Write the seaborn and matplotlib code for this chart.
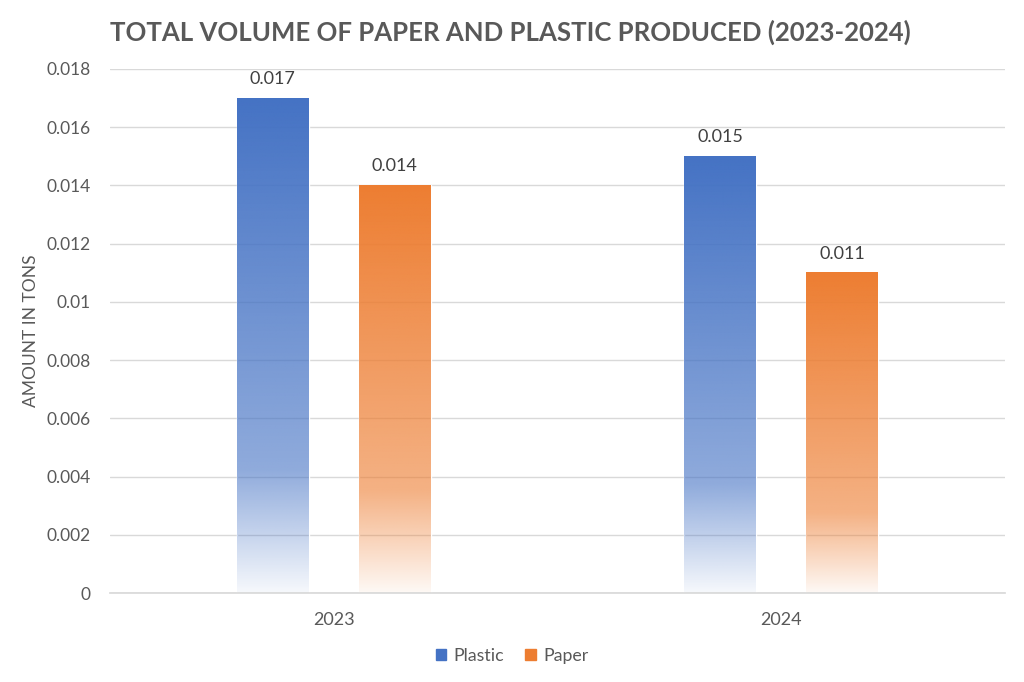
import numpy as np
import pandas as pd
import matplotlib
matplotlib.use("Agg")
import matplotlib.pyplot as plt
import matplotlib.colors as mcolors
import seaborn as sns

# data
years = ["2023", "2024"]
materials = ["Plastic", "Paper"]
plastic = [0.017, 0.015]
paper = [0.014, 0.011]

df = pd.DataFrame({
    "Year": years * 2,
    "Material": ["Plastic"] * 2 + ["Paper"] * 2,
    "Amount": plastic + paper,
})

colors = {"Plastic": "#4472C4", "Paper": "#ED7D31"}
text_gray = "#595959"

sns.set_theme(style="white")
plt.rcParams["font.family"] = ["Lato", "DejaVu Sans"]

fig = plt.figure(figsize=(10.24, 6.82), dpi=100)
ax = fig.add_axes([110 / 1024, 1 - 593 / 682, 895 / 1024, 524 / 682])

sns.barplot(data=df, x="Year", y="Amount", hue="Material", order=years,
            hue_order=materials, palette=colors, width=0.545, gap=0.41,
            ax=ax, legend=False, zorder=2)

ax.set_ylim(0, 0.018)
ax.set_xlim(-0.5, 1.5)
ax.set_yticks(np.arange(0, 0.0181, 0.002))
ax.set_yticklabels(["0", "0.002", "0.004", "0.006", "0.008", "0.01",
                    "0.012", "0.014", "0.016", "0.018"])
ax.grid(axis="y", color="#D9D9D9", linewidth=1, zorder=0)
ax.set_axisbelow(True)
for s in ["top", "right", "left"]:
    ax.spines[s].set_visible(False)
ax.spines["bottom"].set_color("#D9D9D9")
ax.tick_params(axis="y", length=0, labelsize=12.5, colors=text_gray, pad=14)
ax.tick_params(axis="x", length=0, labelsize=13, colors=text_gray, pad=14)
ax.set_xlabel("")
ax.set_ylabel("AMOUNT IN TONS", fontsize=12.5, color=text_gray, labelpad=5)


def gradient_img(color):
    # vertical fade: solid top, light bottom
    rgb = np.array(mcolors.to_rgb(color))
    t = np.linspace(0, 1, 256)  # 0 bottom -> 1 top
    alpha = np.where(t < 0.25, 0.05 + (0.6 - 0.05) * (t / 0.25),
                     0.6 + 0.4 * (t - 0.25) / 0.75)
    img = np.ones((256, 1, 4))
    img[:, 0, :3] = rgb
    img[:, 0, 3] = alpha
    return img[::-1]


# replace flat fill with gradient
for container, mat in zip(ax.containers, materials):
    for patch in container:
        x0, y0 = patch.get_x(), patch.get_y()
        w, h = patch.get_width(), patch.get_height()
        ax.imshow(gradient_img(colors[mat]), extent=[x0, x0 + w, y0, y0 + h],
                  aspect="auto", zorder=2, interpolation="bilinear")
        patch.set_facecolor("none")
    ax.bar_label(container, labels=[f"{v:.3f}" for v in container.datavalues],
                 padding=8, fontsize=13, color="#404040")

ax.set_xlim(-0.5, 1.5)
ax.set_ylim(0, 0.018)

fig.text(110 / 1024, 1 - 32 / 682, "TOTAL VOLUME OF PAPER AND PLASTIC PRODUCED (2023-2024)",
         fontsize=18.5, fontweight="bold", color=text_gray, va="center", ha="left")

handles = [plt.Rectangle((0, 0), 1, 1, color=colors[m]) for m in materials]
fig.legend(handles, materials, loc="center", bbox_to_anchor=(0.5, 1 - 656 / 682),
           ncol=2, frameon=False, fontsize=12.8, handlelength=0.6, handleheight=0.6,
           handletextpad=0.4, columnspacing=1.2, labelcolor=text_gray)

fig.savefig("out.png", dpi=100)
